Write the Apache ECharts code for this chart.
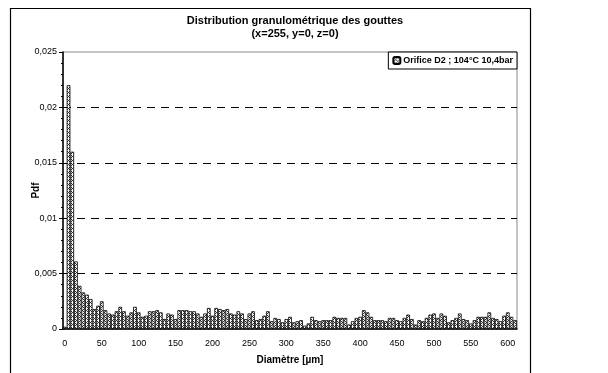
<!DOCTYPE html>
<html lang="fr" style="height: 100%">
<head>
  <meta charset="utf-8">
</head>
<body style="height: 100%; margin: 0; background: #fff">
<div id="container" style="width: 608px; height: 373px"></div>

<script type="text/javascript" src="https://cdn.jsdelivr.net/npm/echarts@6/dist/echarts.min.js"></script>
<script type="text/javascript">
  // classes de diamètre (µm), pas de 5
  var diametres = [];
  for (var k = 0; k <= 122; k++) diametres.push(String(k * 5));

  // Pdf
  var pdf = [
    0.0002, 0.022, 0.016, 0.0061, 0.0039, 0.0033, 0.0031, 0.0027, 0.0018, 0.0021,
    0.0025, 0.0017, 0.0014, 0.0013, 0.0016, 0.0020, 0.0016, 0.0012, 0.0015, 0.0020,
    0.0015, 0.0011, 0.0012, 0.0016, 0.0016, 0.0017, 0.0015, 0.0009, 0.0014, 0.0013,
    0.0009, 0.0017, 0.0017, 0.0017, 0.0016, 0.0016, 0.0014, 0.0011, 0.0014, 0.0019,
    0.0012, 0.0019, 0.0018, 0.0017, 0.0018, 0.0014, 0.0013, 0.0016, 0.0014, 0.0009,
    0.0014, 0.0016, 0.0008, 0.0009, 0.0012, 0.0016, 0.0007, 0.0010, 0.0009, 0.0006,
    0.0009, 0.0011, 0.0006, 0.0007, 0.0008, 0.0003, 0.0005, 0.0011, 0.0008, 0.0007,
    0.0008, 0.0008, 0.0008, 0.0011, 0.0010, 0.0010, 0.0010, 0.0004, 0.0007, 0.0010,
    0.0011, 0.0017, 0.0015, 0.0011, 0.0008, 0.0008, 0.0008, 0.0007, 0.0010, 0.0010,
    0.0008, 0.0007, 0.0010, 0.0013, 0.0009, 0.0004, 0.0008, 0.0007, 0.0010, 0.0013,
    0.0014, 0.0010, 0.0014, 0.0012, 0.0006, 0.0008, 0.0010, 0.0014, 0.0009, 0.0008,
    0.0005, 0.0008, 0.0011, 0.0011, 0.0011, 0.0015, 0.0010, 0.0009, 0.0007, 0.0012,
    0.0015, 0.0011, 0.0008
  ];

  var serieNom = 'Orifice D2 ; 104°C 10,4bar';

  // motif hachuré des barres
  var motif = document.createElement('canvas');
  motif.width = 4;
  motif.height = 4;
  var ctx = motif.getContext('2d');
  ctx.fillStyle = '#fff';
  ctx.fillRect(0, 0, 4, 4);
  ctx.fillStyle = '#333';
  for (var x = 0; x < 4; x++) {
    for (var y = 0; y < 4; y++) {
      if ((x + y) % 4 === 0 || (x - y + 4) % 4 === 0) ctx.fillRect(x, y, 1, 1);
    }
  }

  var dom = document.getElementById('container');
  var myChart = echarts.init(dom, null, { renderer: 'canvas' });

  var police = 'Liberation Sans, Arial, sans-serif';

  var option = {
    animation: false,
    backgroundColor: '#fff',
    textStyle: { fontFamily: police },
    title: {
      text: 'Distribution granulométrique des gouttes\n(x=255, y=0, z=0)',
      left: 290,
      textAlign: 'center',
      top: 9,
      textStyle: { fontSize: 11, fontWeight: 'bold', color: '#000', lineHeight: 13, fontFamily: police }
    },
    legend: {
      right: 91,
      top: 52,
      padding: [4, 4, 4, 4],
      itemWidth: 7,
      itemHeight: 7,
      itemGap: 4,
      borderColor: '#000',
      borderWidth: 1,
      backgroundColor: '#fff',
      textStyle: { fontSize: 9, fontWeight: 'bold', color: '#000', fontFamily: police, padding: [0, 0, 0, -2] },
      data: [serieNom]
    },
    grid: {
      left: 63,
      right: 91,
      top: 52,
      bottom: 44,
      show: true,
      borderColor: '#888',
      borderWidth: 1
    },
    xAxis: {
      type: 'category',
      data: diametres,
      name: 'Diamètre [µm]',
      nameLocation: 'middle',
      nameGap: 26,
      nameTextStyle: { fontSize: 10, fontWeight: 'bold', color: '#000' },
      axisLine: { lineStyle: { color: '#000', width: 1.5 } },
      axisTick: { interval: 4, length: 4, lineStyle: { color: '#000' } },
      axisLabel: { interval: 9, fontSize: 9, color: '#000', margin: 10 }
    },
    yAxis: {
      type: 'value',
      min: 0,
      max: 0.025,
      interval: 0.005,
      name: 'Pdf',
      nameLocation: 'middle',
      nameGap: 22,
      nameMoveOverlap: false,
      nameTextStyle: { fontSize: 10, fontWeight: 'bold', color: '#000' },
      axisLine: { show: true, lineStyle: { color: '#000', width: 1.5 } },
      axisTick: { show: true, length: 4, lineStyle: { color: '#000' } },
      minorTick: { show: true, splitNumber: 5, length: 2, lineStyle: { color: '#000' } },
      axisLabel: {
        fontSize: 9,
        color: '#000',
        margin: 6,
        formatter: function (v) { return String(+v.toFixed(3)).replace('.', ','); }
      },
      splitLine: {
        lineStyle: {
          color: ['rgba(0,0,0,0)', '#000', '#000', '#000', '#000', 'rgba(0,0,0,0)'],
          type: [8, 6],
          width: 1
        }
      }
    },
    graphic: [
      {
        type: 'rect',
        shape: { x: 10.5, y: 8.5, width: 520, height: 380 },
        style: { fill: 'none', stroke: '#000', lineWidth: 1.2 },
        silent: true,
        z: -1
      }
    ],
    series: [
      {
        name: serieNom,
        type: 'bar',
        data: pdf,
        barCategoryGap: '0%',
        itemStyle: {
          color: { image: motif, repeat: 'repeat' },
          borderColor: '#000',
          borderWidth: 0.8
        }
      }
    ]
  };

  myChart.setOption(option);
  window.addEventListener('resize', myChart.resize);
</script>
</body>
</html>
